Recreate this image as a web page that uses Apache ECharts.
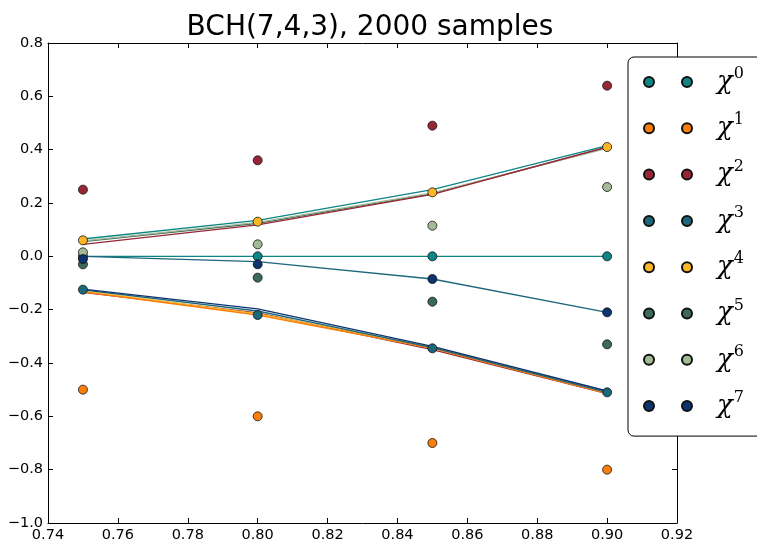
<!DOCTYPE html>
<html><head><meta charset="utf-8">
<script src="https://cdn.jsdelivr.net/npm/echarts@6/dist/echarts.min.js"></script>
<style>html,body{margin:0;padding:0;background:#fff}#c{width:757px;height:547px}</style>
</head><body><div id="c"></div>
<script>
const title = "BCH(7,4,3), 2000 samples";
const xs = [0.75, 0.80, 0.85, 0.90];
const names = ["0","1","2","3","4","5","6","7"];
const colors = ["#0e8585","#fb7e0a","#982634","#1c687b","#fdb726","#3b6a5a","#a3ba96","#0b3470"];
// measured points (markers)
const chi0 = [0.0, 0.0, 0.0, 0.0];
const chi1 = [-0.50, -0.60, -0.70, -0.80];
const chi2 = [0.25, 0.36, 0.49, 0.64];
const chi3 = [-0.125, -0.22, -0.345, -0.51];
const chi4 = [0.06, 0.13, 0.24, 0.41];
const chi5 = [-0.03, -0.08, -0.17, -0.33];
const chi6 = [0.015, 0.045, 0.115, 0.26];
const chi7 = [-0.01, -0.03, -0.085, -0.21];
const points = [chi0, chi1, chi2, chi3, chi4, chi5, chi6, chi7];
// curves (no legend)
const curveUpTeal  = [0.065, 0.135, 0.25, 0.415];
const curveUpGreen = [0.058, 0.127, 0.238, 0.405];
const curveUpDark  = [0.055, 0.124, 0.235, 0.408];
const curveUpRed   = [0.045, 0.118, 0.232, 0.41];
const curveZero    = [0.0, 0.0, 0.0, 0.0];
const curveMid     = [0.0, -0.02, -0.085, -0.21];
const curveLoNavy  = [-0.123, -0.197, -0.338, -0.505];
const curveLoTeal  = [-0.126, -0.205, -0.342, -0.51];
const curveLoYel   = [-0.13, -0.215, -0.34, -0.508];
const curveLoOra   = [-0.133, -0.22, -0.345, -0.515];
const curveLoRed   = [-0.135, -0.212, -0.35, -0.515];
const curves = [
  [curveUpDark, 5], [curveUpGreen, 6], [curveUpRed, 2], [curveUpTeal, 0],
  [curveZero, 0], [curveMid, 3],
  [curveLoRed, 2], [curveLoYel, 4], [curveLoOra, 1], [curveLoTeal, 3], [curveLoNavy, 7]
];

const zip = arr => xs.map((x,i)=>[x, arr[i]]);
const fmtY = v => v.toFixed(1).replace('-', '\u2212');
const fmtX = v => v.toFixed(2);
const axisCommon = () => ({
  axisLine:{show:true, onZero:false, lineStyle:{color:'#000', width:1}},
  axisTick:{show:true, inside:true, length:5, lineStyle:{color:'#000'}},
  splitLine:{show:false}
});
const series = [];
curves.forEach(([arr, ci]) => {
  series.push({type:'line', data:zip(arr), symbol:'none', z:1, silent:true,
    lineStyle:{color:colors[ci], width:1.3}, itemStyle:{color:colors[ci]}});
});
points.forEach((arr, i) => {
  series.push({type:'scatter', name:names[i], data:zip(arr), symbol:'circle', symbolSize:9, z:3,
    itemStyle:{color:colors[i], borderColor:'#111', borderWidth:0.8, opacity:1}});
});
const chart = echarts.init(document.getElementById('c'), null, {renderer:'canvas'});
chart.setOption({
  animation:false,
  backgroundColor:'#fff',
  title:{text:title, left:365, textAlign:'center', top:9,
    textStyle:{fontFamily:'DejaVu Sans', fontSize:28, fontWeight:'normal', color:'#000'}},
  grid:{left:48, right:80, top:43, bottom:24, containLabel:false},
  xAxis:[
    Object.assign({type:'value', min:0.74, max:0.92, interval:0.02, position:'bottom',
      axisLabel:{formatter:fmtX, fontFamily:'DejaVu Sans', fontSize:14.5, color:'#000', margin:5}}, axisCommon()),
    Object.assign({type:'value', min:0.74, max:0.92, interval:0.02, position:'top',
      axisLabel:{show:false}}, axisCommon())
  ],
  yAxis:[
    Object.assign({type:'value', min:-1.0, max:0.8, interval:0.2, position:'left',
      axisLabel:{formatter:fmtY, fontFamily:'DejaVu Sans', fontSize:14.5, color:'#000', margin:5}}, axisCommon()),
    Object.assign({type:'value', min:-1.0, max:0.8, interval:0.2, position:'right',
      axisLabel:{show:false}}, axisCommon())
  ],
  legend:{
    show:true, orient:'vertical', left:628, top:57,
    data:names,
    backgroundColor:'#fff', borderColor:'#000', borderWidth:1, borderRadius:6,
    padding:[9, 40, 17, 15],
    itemWidth:48, itemHeight:10, itemGap:17.3,
    icon:'path://M0,5a5,5 0 1,0 10,0a5,5 0 1,0 -10,0zM38,5a5,5 0 1,0 10,0a5,5 0 1,0 -10,0z',
    formatter: n => '{a|\u03c7}{b|' + n + '}',
    textStyle:{color:'#000', padding:[0,0,0,20],
      rich:{
        a:{fontFamily:'DejaVu Serif', fontStyle:'italic', fontSize:26, color:'#000', lineHeight:30},
        b:{fontFamily:'DejaVu Serif', fontSize:16, color:'#000', padding:[0,0,16,1]}
      }}
  },
  series:series
});
</script></body></html>
